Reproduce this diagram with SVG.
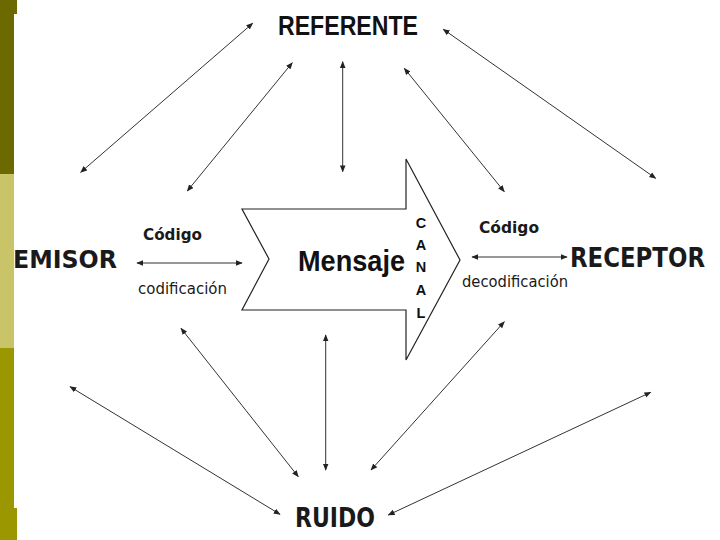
<svg xmlns="http://www.w3.org/2000/svg" width="720" height="540" viewBox="0 0 720 540">
<style>
.ar{fill:#111;font-family:"Liberation Sans",Arial,sans-serif;font-weight:bold}
.dv{fill:#1a1a1a;font-family:"DejaVu Sans",Verdana,sans-serif}
.b{font-weight:bold}
.c line{stroke:#333;stroke-width:1;marker-start:url(#ah);marker-end:url(#ah)}
</style>
<defs>
<marker id="ah" viewBox="0 0 10 10" refX="9" refY="5" markerWidth="7" markerHeight="7" markerUnits="userSpaceOnUse" orient="auto-start-reverse">
<path d="M0,1 L10,5 L0,9 Z" fill="#222"/>
</marker>
</defs>
<rect width="720" height="540" fill="#fff"/>
<g id="sidebar">
<rect x="0" y="0" width="14" height="174" fill="#6b6900"/>
<rect x="14" y="0" width="3" height="14" fill="#6b6900"/>
<rect x="0" y="174" width="14" height="174" fill="#c9c467"/>
<rect x="0" y="348" width="14" height="192" fill="#9a9700"/>
<rect x="14" y="508" width="3" height="32" fill="#9a9700"/>
</g>
<g id="mensaje">
<path d="M242,209 L406,209 L406,159 L460,260 L406,360 L406,310 L242,310 L269,259 Z" fill="#fff" stroke="#222" stroke-width="1.2"/>
<text class="ar" x="298" y="271" font-size="30" textLength="107" lengthAdjust="spacingAndGlyphs">Mensaje</text>
</g>
<g id="canal" class="ar" font-size="14.5" text-anchor="middle">
<text x="421" y="228">C</text>
<text x="421" y="250">A</text>
<text x="421" y="272">N</text>
<text x="421" y="295">A</text>
<text x="421" y="318">L</text>
</g>
<g id="referente">
<text class="ar" x="278" y="35" font-size="27" textLength="140" lengthAdjust="spacingAndGlyphs">REFERENTE</text>
</g>
<g id="emisor">
<text class="dv b" x="13" y="268" font-size="25" textLength="104" lengthAdjust="spacingAndGlyphs">EMISOR</text>
</g>
<g id="receptor">
<text class="dv b" x="570" y="267" font-size="27" textLength="135" lengthAdjust="spacingAndGlyphs">RECEPTOR</text>
</g>
<g id="ruido">
<text class="dv b" x="295" y="527" font-size="27" textLength="80" lengthAdjust="spacingAndGlyphs">RUIDO</text>
</g>
<g id="labels">
<text class="dv b" x="143" y="240" font-size="16" textLength="59" lengthAdjust="spacingAndGlyphs">Código</text>
<text class="dv" x="138" y="294" font-size="15" textLength="89" lengthAdjust="spacingAndGlyphs">codificación</text>
<text class="dv b" x="479" y="233" font-size="16" textLength="60" lengthAdjust="spacingAndGlyphs">Código</text>
<text class="dv" x="462" y="287" font-size="15" textLength="106" lengthAdjust="spacingAndGlyphs">decodificación</text>
</g>
<g id="connectors" class="c">
<line x1="252.7" y1="23.3" x2="80.7" y2="172.3"/>
<line x1="292.3" y1="62.7" x2="187.3" y2="191"/>
<line x1="342.7" y1="61.7" x2="342.7" y2="171.7"/>
<line x1="404.3" y1="68.3" x2="504.3" y2="191.7"/>
<line x1="443.3" y1="29.3" x2="655.7" y2="178.3"/>
<line x1="70" y1="386.7" x2="280" y2="514.3"/>
<line x1="181" y1="328.3" x2="298.3" y2="476.7"/>
<line x1="325.7" y1="335" x2="325.7" y2="470"/>
<line x1="504.3" y1="321.7" x2="371" y2="470"/>
<line x1="650.7" y1="392.3" x2="388.3" y2="515"/>
<line x1="137" y1="263" x2="242" y2="263"/>
<line x1="472" y1="257" x2="567" y2="257"/>
</g>
</svg>
